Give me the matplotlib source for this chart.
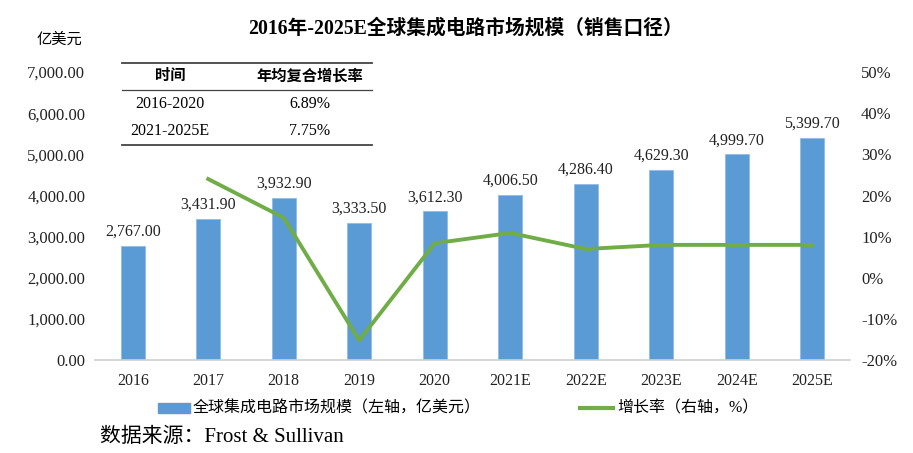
import matplotlib.pyplot as plt
import matplotlib.ticker as mticker
import numpy as np

plt.rcParams['font.family'] = ['Liberation Serif', 'Noto Sans CJK SC']
plt.rcParams['axes.unicode_minus'] = False

years = ['2016', '2017', '2018', '2019', '2020', '2021E', '2022E', '2023E', '2024E', '2025E']
market = [2767.00, 3431.90, 3932.90, 3333.50, 3612.30, 4006.50, 4286.40, 4629.30, 4999.70, 5399.70]
# growth rate (%) starting from 2017
growth = [24.0, 14.6, -15.2, 8.4, 10.9, 7.0, 8.0, 8.0, 8.0]

cagr_periods = ['2016-2020', '2021-2025E']
cagr_values = ['6.89%', '7.75%']

bar_color = '#5B9BD5'
line_color = '#70AD47'

fig = plt.figure(figsize=(9.13, 4.53), dpi=100)
ax = fig.add_axes([0.104, 0.205, 0.827, 0.636])
x = np.arange(len(years))

ax.bar(x, market, width=0.32, color=bar_color, edgecolor='#8FBCE6', linewidth=0.6, zorder=2)
for xi, v in zip(x, market):
    ax.text(xi, v + 150, f'{v:,.2f}', ha='center', va='bottom', fontsize=11.5, color='#222222')

ax.set_xlim(-0.5, len(years) - 0.5)
ax.set_ylim(0, 7000)
ax.set_yticks(np.arange(0, 7001, 1000))
ax.yaxis.set_major_formatter(mticker.FuncFormatter(lambda v, p: f'{v:,.2f}'))
ax.set_xticks(x)
ax.set_xticklabels(years)
ax.tick_params(axis='both', length=0, labelsize=12, colors='#222222')
ax.tick_params(axis='x', pad=9, labelsize=11.5)
ax.tick_params(axis='y', pad=7)
for s in ['top', 'right', 'left']:
    ax.spines[s].set_visible(False)
ax.spines['bottom'].set_color('#D0D0D0')
ax.spines['bottom'].set_linewidth(1.2)

ax2 = ax.twinx()
ax2.plot(x[1:], growth, color=line_color, linewidth=2.8, zorder=3)
ax2.set_ylim(-20, 50)
ax2.set_yticks(np.arange(-20, 51, 10))
ax2.yaxis.set_major_formatter(mticker.FuncFormatter(lambda v, p: f'{v:.0f}%'))
ax2.tick_params(axis='y', length=0, labelsize=12, colors='#222222', pad=8)
for s in ax2.spines.values():
    s.set_visible(False)

fig.text(0.51, 0.936, '2016年-2025E全球集成电路市场规模（销售口径）', ha='center', va='center',
         fontsize=14.2, fontweight='bold')
fig.text(0.065, 0.912, '亿美元', ha='center', va='center', fontsize=11)

# CAGR table
tx0, tx1 = 122 / 913, 372 / 913
for yy, lw in [(63, 1.3), (90, 0.9), (145, 1.3)]:
    fig.add_artist(plt.Line2D([tx0, tx1], [1 - yy / 453] * 2, color='#444444', linewidth=lw))
fig.text(170 / 913, 1 - 76 / 453, '时间', ha='center', va='center', fontsize=11, fontweight='bold')
fig.text(310 / 913, 1 - 76 / 453, '年均复合增长率', ha='center', va='center', fontsize=11, fontweight='bold')
for i, (p, v) in enumerate(zip(cagr_periods, cagr_values)):
    yy = 1 - (104 + i * 27) / 453
    fig.text(170 / 913, yy, p, ha='center', va='center', fontsize=11.5)
    fig.text(310 / 913, yy, v, ha='center', va='center', fontsize=11.5)

# legend
ly = 1 - 408 / 453
fig.patches.append(plt.Rectangle((158 / 913, ly - 0.010), 32 / 913, 0.020, color=bar_color,
                                 transform=fig.transFigure, figure=fig))
fig.text(193 / 913, ly, '全球集成电路市场规模（左轴，亿美元）', ha='left', va='center', fontsize=11.5)
fig.add_artist(plt.Line2D([580 / 913, 613 / 913], [ly, ly], color=line_color, linewidth=3))
fig.text(617 / 913, ly, '增长率（右轴，%）', ha='left', va='center', fontsize=11.5)

fig.text(100 / 913, 1 - 437 / 453, '数据来源：Frost & Sullivan', ha='left', va='center', fontsize=15)

fig.savefig('out.png', dpi=100)
